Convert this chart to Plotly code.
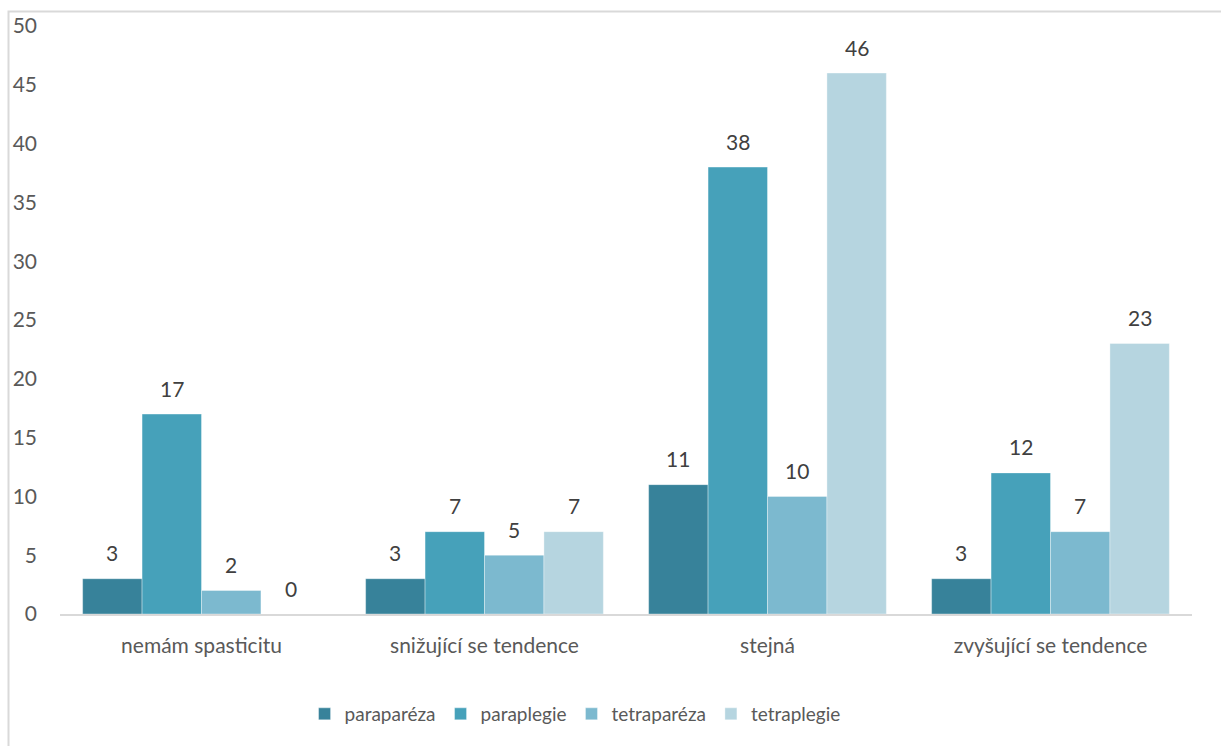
import plotly.graph_objects as go

categories = ["nemám spasticitu", "snižující se tendence", "stejná", "zvyšující se tendence"]
series_names = ["paraparéza", "paraplegie", "tetraparéza", "tetraplegie"]
paraparéza = [3, 3, 11, 3]
paraplegie = [17, 7, 38, 12]
tetraparéza = [2, 5, 10, 7]
tetraplegie = [0, 7, 46, 23]
y_ticks = [0, 5, 10, 15, 20, 25, 30, 35, 40, 45, 50]

series_values = [paraparéza, paraplegie, tetraparéza, tetraplegie]
colors = ["#37829A", "#46A1BA", "#7CB9CF", "#B6D5E0"]

W, H = 1221, 746
ML, MR, MT, MB = 60, 29, 26, 132
FONT = "Lato"
BARGAP = 0.16

fig = go.Figure()
for name, vals, col in zip(series_names, series_values, colors):
    fig.add_trace(go.Bar(
        name=name, x=categories, y=vals,
        marker=dict(color=col, line=dict(color="rgba(255,255,255,0.45)", width=0.8)),
    ))

# value labels above each bar, placed at the bar's grouped offset
n = len(series_names)
bw = (1 - BARGAP) / n
annotations = []
for i, vals in enumerate(series_values):
    off = (i - (n - 1) / 2) * bw
    for j, v in enumerate(vals):
        annotations.append(dict(
            x=j + off, y=v, xref="x", yref="y", text=str(v), showarrow=False,
            yanchor="middle", yshift=26,
            font=dict(family=FONT, size=21, color="#404040"),
        ))

# outer chart frame (light gray), partially outside the canvas
pw, ph = W - ML - MR, H - MT - MB
fx0 = (8.5 - ML) / pw
fy1 = (H - MB - 11.5) / ph
fig.add_shape(type="rect", xref="paper", yref="paper",
              x0=fx0, x1=1.5, y0=-1.0, y1=fy1,
              line=dict(color="#D9D9D9", width=2), fillcolor="rgba(0,0,0,0)", layer="below")

fig.update_layout(
    width=W, height=H,
    margin=dict(l=ML, r=MR, t=MT, b=MB, pad=0, autoexpand=False),
    paper_bgcolor="white", plot_bgcolor="white",
    barmode="group", bargap=BARGAP, bargroupgap=0,
    font=dict(family=FONT, size=21, color="#595959"),
    showlegend=True,
    legend=dict(orientation="h", x=0.455, xanchor="center",
                yref="container", y=(H - 714) / H, yanchor="middle",
                font=dict(family=FONT, size=19, color="#595959"),
                itemwidth=30, traceorder="normal"),
    annotations=annotations,
    xaxis=dict(showgrid=False, showline=True, linecolor="#D9D9D9", linewidth=2,
               ticks="", ticklabelstandoff=12,
               tickfont=dict(family=FONT, size=21, color="#595959")),
    yaxis=dict(range=[0, 50], tickvals=y_ticks, showgrid=False, zeroline=False,
               showline=False, ticks="", ticklabelstandoff=22,
               tickfont=dict(family=FONT, size=21, color="#595959")),
)

fig.write_html("out.html")
